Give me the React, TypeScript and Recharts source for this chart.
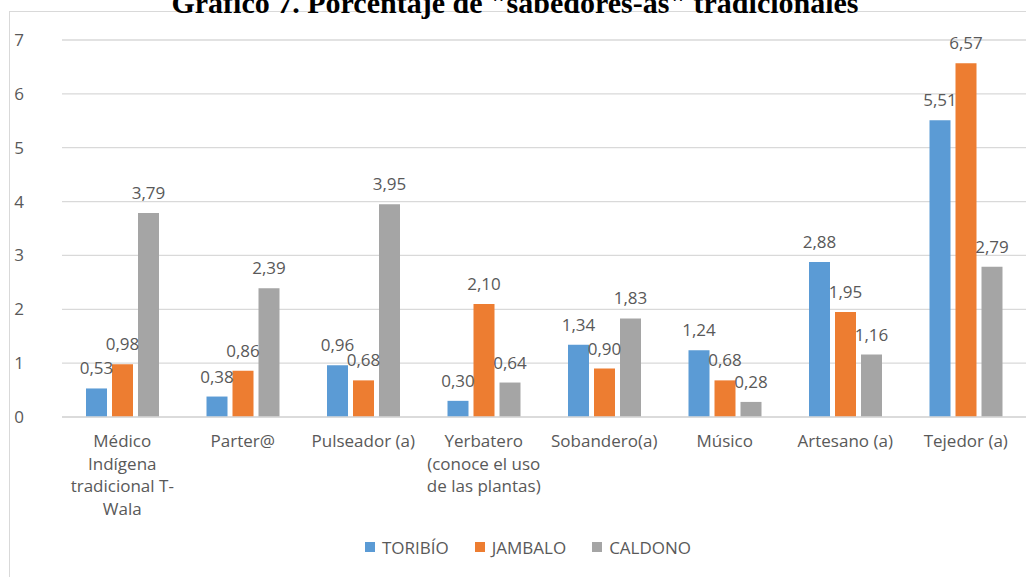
import React from "react";
import {
  BarChart,
  Bar,
  XAxis,
  YAxis,
  CartesianGrid,
  Legend,
  LabelList,
} from "recharts";

const categoryLines: string[][] = [
  ["Médico", "Indígena", "tradicional T-", "Wala"],
  ["Parter@"],
  ["Pulseador (a)"],
  ["Yerbatero", "(conoce el uso", "de las plantas)"],
  ["Sobandero(a)"],
  ["Músico"],
  ["Artesano (a)"],
  ["Tejedor (a)"],
];

const toribio = [0.53, 0.38, 0.96, 0.3, 1.34, 1.24, 2.88, 5.51];
const jambalo = [0.98, 0.86, 0.68, 2.1, 0.9, 0.68, 1.95, 6.57];
const caldono = [3.79, 2.39, 3.95, 0.64, 1.83, 0.28, 1.16, 2.79];

const yTicks = [0, 1, 2, 3, 4, 5, 6, 7];

const series = [
  { key: "toribio", name: "TORIBÍO", color: "#5B9BD5" },
  { key: "jambalo", name: "JAMBALO", color: "#ED7D31" },
  { key: "caldono", name: "CALDONO", color: "#A5A5A5" },
];

const data = categoryLines.map((lines, i) => ({
  name: lines.join(" "),
  toribio: toribio[i],
  jambalo: jambalo[i],
  caldono: caldono[i],
}));

const FONT = "'Open Sans', 'Noto Sans', sans-serif";
const TEXT = "#595959";
const FS = 17;

const fmt = (v: any) => Number(v).toFixed(2).replace(".", ",");

function CategoryTick({ x, y, index }: any) {
  const lines = categoryLines[index] || [];
  return (
    <g>
      {lines.map((line, i) => (
        <text
          key={i}
          x={x}
          y={y + 22 + i * 22.5}
          textAnchor="middle"
          fill={TEXT}
          fontSize={FS}
          fontFamily={FONT}
        >
          {line}
        </text>
      ))}
    </g>
  );
}

function LegendContent() {
  return (
    <div
      style={{
        display: "flex",
        justifyContent: "center",
        gap: 26,
        height: 20,
        alignItems: "center",
        paddingLeft: 30,
        fontFamily: FONT,
        fontSize: FS,
        color: TEXT,
      }}
    >
      {series.map((s) => (
        <div key={s.key} style={{ display: "flex", alignItems: "center" }}>
          <span
            style={{
              display: "inline-block",
              width: 10,
              height: 10,
              background: s.color,
              marginRight: 7,
            }}
          />
          <span>{s.name}</span>
        </div>
      ))}
    </div>
  );
}

export default function App() {
  return (
    <div
      style={{
        position: "fixed",
        left: 0,
        top: 0,
        width: 1026,
        height: 577,
        overflow: "hidden",
        background: "#fff",
      }}
    >
      <div
        style={{
          position: "absolute",
          left: 9,
          top: 11,
          width: 1100,
          height: 700,
          border: "1px solid #d9d9d9",
        }}
      />
      <div
        style={{
          position: "absolute",
          left: 0,
          width: 1030,
          top: -14,
          textAlign: "center",
          fontFamily: "'Liberation Serif', 'Times New Roman', serif",
          fontWeight: "bold",
          fontSize: 30,
          lineHeight: "34px",
          color: "#000",
          whiteSpace: "nowrap",
        }}
      >
        Gráfico 7. Porcentaje de "sabedores-as" tradicionales
      </div>
      <div style={{ position: "absolute", left: 0, top: 0 }}>
        <BarChart
          width={1026}
          height={577}
          data={data}
          margin={{ top: 40, right: 0, left: 0, bottom: 20 }}
          barSize={21}
          barGap={5}
        >
          <CartesianGrid vertical={false} stroke="#d9d9d9" strokeWidth={1.3} />
          <XAxis
            dataKey="name"
            height={120}
            axisLine={{ stroke: "#d9d9d9", strokeWidth: 1.5 }}
            tickLine={false}
            interval={0}
            tick={<CategoryTick />}
          />
          <YAxis
            width={62}
            domain={[0, 7]}
            ticks={yTicks}
            axisLine={false}
            tickLine={false}
            tickMargin={32}
            tick={{ fill: TEXT, fontSize: FS, fontFamily: FONT }}
          />
          <Legend
            verticalAlign="bottom"
            height={20}
            content={<LegendContent />}
          />
          {series.map((s) => (
            <Bar
              key={s.key}
              dataKey={s.key}
              name={s.name}
              fill={s.color}
              isAnimationActive={false}
            >
              <LabelList
                dataKey={s.key}
                position="top"
                offset={14}
                formatter={fmt}
                fill={TEXT}
                fontSize={FS}
                fontFamily={FONT}
              />
            </Bar>
          ))}
        </BarChart>
      </div>
    </div>
  );
}
